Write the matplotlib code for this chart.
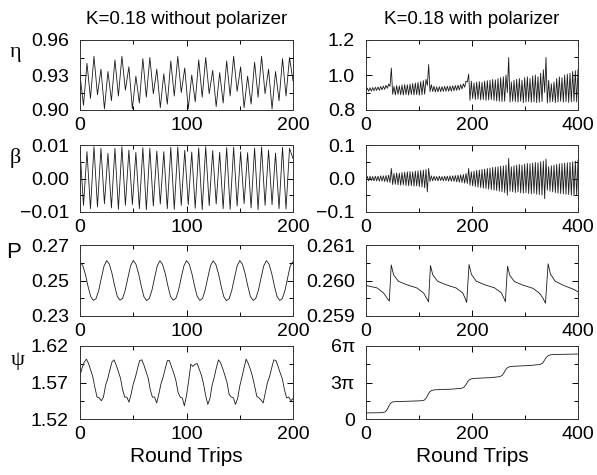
import numpy as np
import matplotlib
matplotlib.use("Agg")
import matplotlib.pyplot as plt
from matplotlib.ticker import FixedLocator, FixedFormatter

plt.rcParams['font.family'] = ['Liberation Sans', 'DejaVu Sans']

# ---------------- data ----------------
titles = ["K=0.18 without polarizer", "K=0.18 with polarizer"]
xlabel = "Round Trips"
row_labels = ["\u03b7", "\u03b2", "P", "\u03c8"]

# left column: without polarizer (0..200 round trips)
eta_l = [0.930,
         0.904, 0.940, 0.910, 0.946, 0.913, 0.935, 0.901, 0.933,
         0.908, 0.943, 0.912, 0.946, 0.917, 0.937, 0.901, 0.929,
         0.906, 0.944, 0.911, 0.945, 0.914, 0.935, 0.902, 0.931,
         0.905, 0.942, 0.912, 0.946, 0.915, 0.936, 0.901, 0.930,
         0.907, 0.943, 0.911, 0.945, 0.914, 0.934, 0.903, 0.932,
         0.906, 0.942, 0.912, 0.946, 0.916, 0.937, 0.902, 0.929,
         0.905, 0.941, 0.911, 0.946, 0.914, 0.935, 0.901, 0.933,
         0.908, 0.944, 0.912, 0.945,
         0.925]

beta_l = [0.0085, -0.0080, 0.0080, -0.0090, 0.0095, -0.0085, 0.0090, -0.0075,
          0.0075, -0.0088, 0.0090, -0.0092, 0.0095, -0.0080, 0.0085, -0.0078,
          0.0078, -0.0090, 0.0092, -0.0093, 0.0090, -0.0082, 0.0082, -0.0076,
          0.0080, -0.0090, 0.0093, -0.0092, 0.0094, -0.0080, 0.0084, -0.0078,
          0.0079, -0.0089, 0.0091, -0.0093, 0.0095, -0.0081, 0.0083, -0.0076,
          0.0078, -0.0090, 0.0092, -0.0092, 0.0093, -0.0082, 0.0080, -0.0075,
          0.0077, -0.0088, 0.0091, -0.0093, 0.0094, -0.0080, 0.0085, -0.0078,
          0.0076, -0.0090, 0.0093, -0.0091, 0.0090, 0.0060]

P_l = [0.2603, 0.2586, 0.2536, 0.2468, 0.2410, 0.2388, 0.2397, 0.2442, 0.2512, 0.2580,
       0.2612, 0.2593, 0.2541, 0.2471, 0.2411, 0.2389, 0.2399, 0.2446, 0.2516, 0.2583,
       0.2613, 0.2592, 0.2539, 0.2469, 0.2409, 0.2387, 0.2398, 0.2444, 0.2514, 0.2582,
       0.2611, 0.2591, 0.2540, 0.2470, 0.2410, 0.2389, 0.2399, 0.2445, 0.2515, 0.2581,
       0.2612, 0.2593, 0.2541, 0.2471, 0.2411, 0.2388, 0.2398, 0.2446, 0.2516, 0.2583,
       0.2611, 0.2591, 0.2539, 0.2469, 0.2409, 0.2387, 0.2397, 0.2444, 0.2514, 0.2581,
       0.2612, 0.2592, 0.2540, 0.2470, 0.2410, 0.2388, 0.2398, 0.2445, 0.2515, 0.2582,
       0.2612, 0.2592, 0.2540, 0.2470, 0.2410, 0.2388, 0.2398, 0.2445, 0.2516, 0.2584,
       0.2606]

psi_l = [1.580, 1.590, 1.598, 1.602, 1.596, 1.587, 1.578, 1.563, 1.550, 1.549,
         1.545, 1.550, 1.566, 1.575, 1.587, 1.598,
         1.601, 1.594, 1.585, 1.576, 1.560, 1.550, 1.550, 1.543, 1.554, 1.568,
         1.577, 1.589, 1.600,
         1.601, 1.594, 1.585, 1.576, 1.560, 1.550, 1.550, 1.542, 1.554, 1.568,
         1.577, 1.589, 1.600,
         1.600, 1.591, 1.583, 1.573, 1.557, 1.550, 1.549, 1.538, 1.552, 1.572,
         1.595, 1.592, 1.595, 1.596, 1.588, 1.580, 1.568, 1.552, 1.540, 1.548,
         1.566, 1.577, 1.590,
         1.601, 1.597, 1.589, 1.580, 1.570, 1.554, 1.550, 1.549, 1.540, 1.548,
         1.565, 1.577, 1.590,
         1.602, 1.596, 1.588, 1.578, 1.565, 1.551, 1.549, 1.546, 1.542, 1.556,
         1.570, 1.578, 1.590,
         1.601, 1.600, 1.592, 1.583, 1.575, 1.560, 1.549, 1.550, 1.545, 1.548]

# right column: with polarizer (0..400 round trips); one max and one min per fast cycle
eta_r_hi = [0.925, 0.927, 0.928, 0.930, 0.932, 0.934, 0.937, 0.941, 0.948,
            1.040,
            0.935, 0.940, 0.938, 0.943, 0.945, 0.944, 0.948, 0.951, 0.954, 0.958, 0.962, 0.968, 0.975,
            1.060,
            0.945, 0.936, 0.932, 0.933, 0.934, 0.935, 0.936, 0.937, 0.938, 0.940, 0.942, 0.945, 0.950, 0.965,
            1.005,
            0.965, 0.955, 0.960, 0.962, 0.958, 0.965, 0.968, 0.970, 0.975, 0.972, 0.980, 0.985, 0.990, 1.000,
            1.100,
            0.960, 0.970, 0.975, 0.980, 0.970, 0.985, 0.990, 0.980, 0.995, 1.000, 0.990, 1.010, 1.030,
            1.100,
            0.970, 0.950, 0.960, 0.980, 0.990, 0.985, 1.000, 1.005, 1.010, 1.020, 1.025, 1.030]
eta_r_lo = [0.905, 0.907, 0.908, 0.910, 0.912, 0.913, 0.915, 0.918, 0.924,
            0.935,
            0.890, 0.886, 0.889, 0.887, 0.886, 0.888, 0.885, 0.889, 0.886, 0.888, 0.885, 0.887, 0.890,
            0.940,
            0.905, 0.906, 0.903, 0.904, 0.905, 0.906, 0.907, 0.907, 0.908, 0.910, 0.912, 0.915, 0.920, 0.930,
            0.960,
            0.855, 0.865, 0.860, 0.862, 0.858, 0.860, 0.855, 0.857, 0.860, 0.855, 0.852, 0.850, 0.848, 0.850,
            0.900,
            0.845, 0.850, 0.848, 0.845, 0.850, 0.842, 0.846, 0.848, 0.844, 0.847, 0.842, 0.845, 0.848,
            0.900,
            0.840, 0.845, 0.848, 0.842, 0.846, 0.850, 0.845, 0.848, 0.843, 0.847, 0.850, 0.846]

beta_r_hi = [0.006, 0.007, 0.006, 0.007, 0.007, 0.008, 0.008, 0.009, 0.010,
             0.030,
             0.015, 0.017, 0.016, 0.018, 0.019, 0.020, 0.021, 0.020, 0.022, 0.023, 0.024, 0.025, 0.027,
             0.030,
             0.008, 0.007, 0.006, 0.007, 0.006, 0.007, 0.007, 0.008, 0.008, 0.009, 0.010, 0.011, 0.012, 0.015,
             0.030,
             0.020, 0.022, 0.024, 0.025, 0.027, 0.028, 0.030, 0.031, 0.033, 0.034, 0.035, 0.037, 0.038, 0.040,
             0.060,
             0.035, 0.038, 0.040, 0.042, 0.040, 0.043, 0.045, 0.044, 0.046, 0.048, 0.047, 0.050, 0.052,
             0.058,
             0.035, 0.038, 0.040, 0.042, 0.044, 0.045, 0.046, 0.047, 0.048, 0.050, 0.052, 0.055]
beta_r_lo = [-0.006, -0.007, -0.006, -0.007, -0.007, -0.008, -0.008, -0.009, -0.010,
             -0.012,
             -0.018, -0.017, -0.019, -0.020, -0.019, -0.021, -0.022, -0.021, -0.023, -0.022, -0.024, -0.025, -0.028,
             -0.040,
             -0.009, -0.007, -0.006, -0.007, -0.006, -0.007, -0.007, -0.008, -0.008, -0.009, -0.010, -0.011, -0.012, -0.014,
             -0.015,
             -0.020, -0.022, -0.024, -0.026, -0.027, -0.029, -0.030, -0.032, -0.033, -0.035, -0.036, -0.038, -0.040, -0.042,
             -0.050,
             -0.038, -0.040, -0.042, -0.040, -0.043, -0.044, -0.042, -0.045, -0.046, -0.044, -0.047, -0.048, -0.050,
             -0.060,
             -0.035, -0.038, -0.040, -0.042, -0.044, -0.045, -0.046, -0.047, -0.048, -0.050, -0.052, -0.050]

P_r_t = [0, 21, 33, 39.5, 44, 47.6, 52, 61, 77, 96, 108.5, 114, 118,
         121.6, 126, 135, 151, 170, 182.5, 187, 190,
         194.4, 199, 208, 224, 243, 255.5, 260, 263,
         267, 271.5, 280, 296, 315, 327.5, 334, 338.6,
         343.6, 348, 357, 373, 392, 400]
P_r_v = [0.25986, 0.25979, 0.25965, 0.25951, 0.25942, 0.26044, 0.26016, 0.25998, 0.25988, 0.25979, 0.25965, 0.25951, 0.25940,
         0.26042, 0.26016, 0.25998, 0.25988, 0.25979, 0.25965, 0.25950, 0.25938,
         0.26045, 0.26017, 0.25998, 0.25988, 0.25979, 0.25965, 0.25951, 0.25940,
         0.26040, 0.26014, 0.25997, 0.25987, 0.25978, 0.25964, 0.25950, 0.25936,
         0.26047, 0.26018, 0.25998, 0.25986, 0.25975, 0.25968]

psi_r_t = [0, 30, 36, 40, 43, 46, 50, 56,
           80, 105, 110, 114, 117, 120, 124, 130,
           160, 180, 185, 189, 192, 195, 199, 205,
           235, 252, 257, 261, 264, 267, 271, 277,
           310, 328, 333, 337, 340, 343, 347, 353,
           400]
psi_r_pi = [0.50, 0.52, 0.58, 0.78, 1.05, 1.28, 1.40, 1.43,
            1.46, 1.50, 1.55, 1.75, 2.00, 2.22, 2.35, 2.40,
            2.45, 2.52, 2.62, 2.85, 3.08, 3.22, 3.30, 3.34,
            3.40, 3.48, 3.58, 3.85, 4.08, 4.22, 4.30, 4.33,
            4.40, 4.48, 4.58, 4.85, 5.05, 5.18, 5.26, 5.30,
            5.34]

# axis settings
left_xmax, right_xmax = 200, 400
left_xticks, right_xticks = [0, 100, 200], [0, 200, 400]
left_ylims = [(0.90, 0.96), (-0.01, 0.01), (0.23, 0.27), (1.52, 1.62)]
left_yticks = [[0.90, 0.93, 0.96], [-0.01, 0.00, 0.01], [0.23, 0.25, 0.27], [1.52, 1.57, 1.62]]
left_ylabs = [["0.90", "0.93", "0.96"], ["\u22120.01", "0.00", "0.01"],
              ["0.23", "0.25", "0.27"], ["1.52", "1.57", "1.62"]]
right_ylims = [(0.8, 1.2), (-0.1, 0.1), (0.259, 0.261), (0, 6 * np.pi)]
right_yticks = [[0.8, 1.0, 1.2], [-0.1, 0.0, 0.1], [0.259, 0.260, 0.261], [0, 3 * np.pi, 6 * np.pi]]
right_ylabs = [["0.8", "1.0", "1.2"], ["\u22120.1", "0.0", "0.1"],
               ["0.259", "0.260", "0.261"], ["0", "3\u03c0", "6\u03c0"]]


def interleave(lo, hi):
    out = []
    for a, b in zip(lo, hi):
        out += [a, b]
    return out

# ---------------- figure ----------------
W, H = 597, 475
fig = plt.figure(figsize=(W / 100, H / 100), dpi=100)


def box(l, t, r, b):
    return [l / W, 1 - b / H, (r - l) / W, (b - t) / H]

col_x = [(80, 293), (366, 578)]
rows_y = [(40, 110), (145, 212), (245, 316), (346, 419)]

left_series = [
    (np.linspace(0, left_xmax, len(eta_l)), eta_l),
    (np.linspace(0, left_xmax, len(beta_l)), beta_l),
    (np.linspace(0, left_xmax, len(P_l)), P_l),
    (np.linspace(0, left_xmax, len(psi_l)), psi_l),
]
eta_r = interleave(eta_r_lo, eta_r_hi)
beta_r = interleave(beta_r_lo, beta_r_hi)
right_series = [
    (np.linspace(0, right_xmax, len(eta_r)), eta_r),
    (np.linspace(0, right_xmax, len(beta_r)), beta_r),
    (np.array(P_r_t), P_r_v),
    (np.array(psi_r_t), np.array(psi_r_pi) * np.pi),
]


def style(ax, xmax, xticks, ylim, yticks, ylabs):
    ax.set_xlim(0, xmax)
    ax.set_ylim(*ylim)
    ax.xaxis.set_major_locator(FixedLocator(xticks))
    ax.xaxis.set_minor_locator(FixedLocator([(xticks[0] + xticks[1]) / 2, (xticks[1] + xticks[2]) / 2]))
    ax.yaxis.set_major_locator(FixedLocator(yticks))
    ax.yaxis.set_major_formatter(FixedFormatter(ylabs))
    ax.yaxis.set_minor_locator(FixedLocator([(yticks[0] + yticks[1]) / 2, (yticks[1] + yticks[2]) / 2]))
    ax.tick_params(which='both', direction='in', top=True, right=True, width=0.7, colors='black')
    ax.tick_params(which='major', length=4)
    ax.tick_params(which='minor', length=3)
    ax.tick_params(axis='y', which='major', labelsize=14, pad=8)
    ax.tick_params(axis='x', which='major', labelsize=14, pad=5)
    for s in ax.spines.values():
        s.set_linewidth(0.7)
        s.set_color('#333333')


for i in range(4):
    t, r = rows_y[i]
    axl = fig.add_axes(box(col_x[0][0], t, col_x[0][1], r))
    axl.plot(*left_series[i], color='#1a1a1a', lw=0.6)
    style(axl, left_xmax, left_xticks, left_ylims[i], left_yticks[i], left_ylabs[i])

    axr = fig.add_axes(box(col_x[1][0], t, col_x[1][1], r))
    axr.plot(*right_series[i], color='#1a1a1a', lw=0.6)
    style(axr, right_xmax, right_xticks, right_ylims[i], right_yticks[i], right_ylabs[i])

# row labels (Greek symbols)
label_pos = [(15, 53), (15, 158), (14, 252), (18, 361)]
for lab, (px, py) in zip(row_labels, label_pos):
    fam = ['Liberation Sans'] if lab == "P" else ['Liberation Serif', 'DejaVu Serif']
    fig.text(px / W, 1 - py / H, lab, ha='center', va='center', fontsize=16, family=fam)

# column titles
fig.text((col_x[0][0] + col_x[0][1]) / 2 / W, 1 - 20 / H, titles[0], ha='center', va='center', fontsize=13.5)
fig.text((col_x[1][0] + col_x[1][1]) / 2 / W, 1 - 20 / H, titles[1], ha='center', va='center', fontsize=13.5)

# x labels
fig.text((col_x[0][0] + col_x[0][1]) / 2 / W, 1 - 457 / H, xlabel, ha='center', va='center', fontsize=15)
fig.text((col_x[1][0] + col_x[1][1]) / 2 / W, 1 - 457 / H, xlabel, ha='center', va='center', fontsize=15)

fig.savefig("out.png", dpi=100)
